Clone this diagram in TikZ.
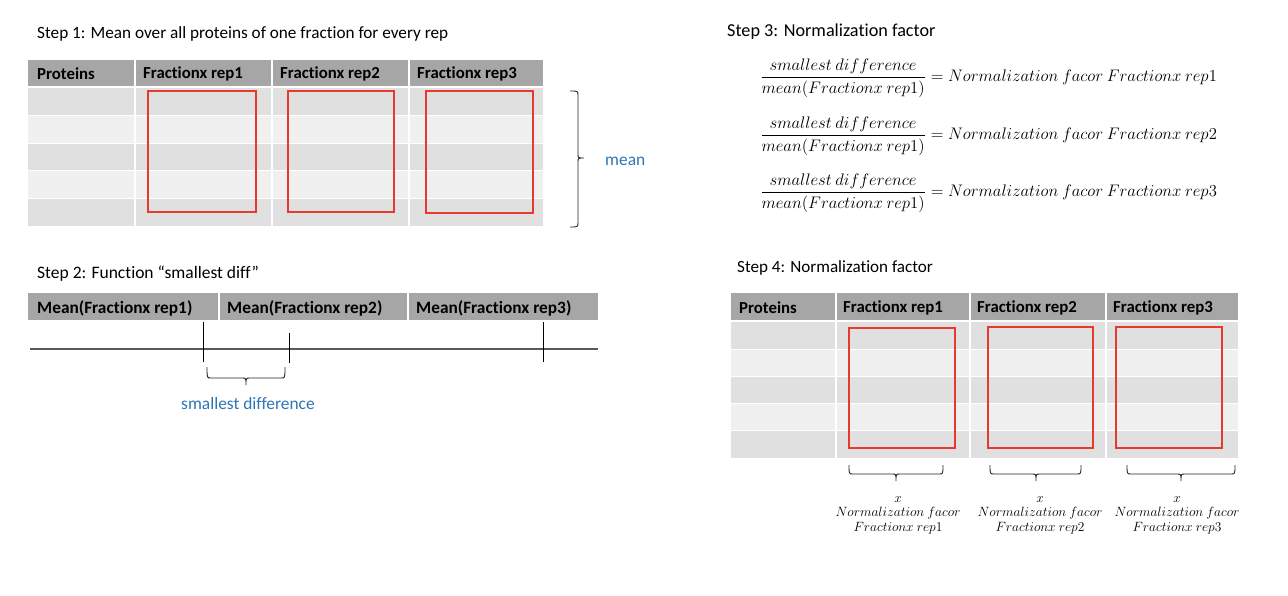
\documentclass[tikz,border=0pt]{standalone}
\usepackage{graphicx}
\usepackage{fontspec}
\setmainfont{Carlito}[Ligatures=NoCommon]
\definecolor{hdr}{HTML}{A6A6A6}
\definecolor{rowA}{HTML}{E0E0E0}
\definecolor{rowB}{HTML}{F0F0F0}
\definecolor{redbox}{HTML}{E8392F}
\definecolor{bluetxt}{HTML}{2E75B6}
\definecolor{axisgray}{HTML}{595959}
\tikzset{
  titletext/.style={anchor=west, inner sep=0pt, font=\fontsize{#1}{20}\selectfont},
  hdrtext/.style={anchor=west, inner sep=0pt, font=\fontsize{#1}{20}\selectfont\bfseries},
  redrect/.style={draw=redbox, line width=1.4pt},
  bluetext/.style={inner sep=0pt, text=bluetxt, font=\fontsize{17.4}{20}\selectfont},
  bracepath/.style={draw=black!85, line width=0.9pt},
  tickline/.style={draw=black, line width=0.7pt},
  cellsep/.style={draw=white, line width=1.5pt},
  rowsep/.style={draw=white, line width=1pt},
  eqtext/.style={anchor=west, inner sep=0pt, font=\fontsize{14}{17}\selectfont},
  factext/.style={inner sep=0pt, font=\fontsize{12.5}{14}\selectfont},
}
\newcommand{\eqline}[1]{\scalebox{1.16}{$\displaystyle\frac{smallest\ difference}{mean(Fractionx\ rep1)} = Normalization\ facor\ Fractionx\ rep#1$}}
\newcommand{\faclabel}[1]{\scalebox{1.12}{\renewcommand{\arraystretch}{0.95}\begin{tabular}{@{}c@{}}$x$\\$Normalization\ facor$\\$Fractionx\ rep#1$\end{tabular}}}
\begin{document}
\begin{tikzpicture}[x=1pt,y=-1pt]
\useasboundingbox[fill=white] (0,0) rectangle (1288,596);

% ---------------- Step 1 ----------------
\node[titletext=17.2] (t1) at (37,34) {Step 1: Mean over all proteins of one fraction for every rep};
\fill[hdr] (28,60) rectangle (543,86);
\foreach \r/\c in {0/rowA,1/rowB,2/rowA,3/rowB,4/rowA}
  \fill[\c] (28,{88+27.6*\r}) rectangle (543,{88+27.6*(\r+1)});
\foreach \r in {1,...,4} \draw[rowsep] (28,{88+27.6*\r}) -- (543,{88+27.6*\r});
\foreach \x in {135,272,409} \draw[cellsep] (\x,60) -- (\x,226);
\node[hdrtext=16.8] (h1a) at (37,74) {Proteins};
\node[hdrtext=16.8] (h1b) at (143,74) {Fractionx rep1};
\node[hdrtext=16.8] (h1c) at (280,74) {Fractionx rep2};
\node[hdrtext=16.8] (h1d) at (417,74) {Fractionx rep3};
\draw[redrect] (148,91) rectangle (256,212);
\draw[redrect] (288,91) rectangle (394,212);
\draw[redrect] (426,91) rectangle (533,213);
\draw[bracepath] (570,91) .. controls (578,91) .. (578,96) -- (578,154)
   .. controls (578,158) .. (584,158) .. controls (578,158) .. (578,162)
   -- (578,222) .. controls (578,227) .. (570,227);
\node[bluetext, anchor=west] (mean) at (605,161) {mean};

% ---------------- Step 2 ----------------
\node[titletext=17.5] (t2) at (37,274) {Step 2: Function “smallest diff”};
\fill[hdr] (28,293) rectangle (598,320);
\foreach \x in {219,408} \draw[cellsep] (\x,293) -- (\x,320);
\node[hdrtext=17.3] (m1) at (37,308) {Mean(Fractionx rep1)};
\node[hdrtext=17.3] (m2) at (227,308) {Mean(Fractionx rep2)};
\node[hdrtext=17.3] (m3) at (416,308) {Mean(Fractionx rep3)};
\draw[draw=axisgray, line width=1.6pt] (30,349) -- (598,349);
\draw[tickline] (203,322) -- (203,362);
\draw[tickline] (289,333) -- (289,363);
\draw[tickline] (543,322) -- (543,362);
\draw[bracepath] (207,367) .. controls (207,378) .. (211,378) -- (242,378)
   .. controls (246,378) .. (246,385) .. controls (246,378) .. (250,378)
   -- (281,378) .. controls (285,378) .. (285,367);
\node[bluetext] (sd) at (248,404) {smallest difference};

% ---------------- Step 3 ----------------
\node[titletext=18.2] (t3) at (727,32) {Step 3: Normalization factor};
\node[eqtext] (e1) at (760,78) {\eqline{1}};
\node[eqtext] (e2) at (760,136) {\eqline{2}};
\node[eqtext] (e3) at (760,193) {\eqline{3}};

% ---------------- Step 4 ----------------
\node[titletext=17.1] (t4) at (737,268) {Step 4: Normalization factor};
\fill[hdr] (731,293) rectangle (1238,320);
\foreach \r/\c in {0/rowA,1/rowB,2/rowA,3/rowB,4/rowA}
  \fill[\c] (731,{322+27.2*\r}) rectangle (1238,{322+27.2*(\r+1)});
\foreach \r in {1,...,4} \draw[rowsep] (731,{322+27.2*\r}) -- (1238,{322+27.2*\r});
\foreach \x in {836,970,1106} \draw[cellsep] (\x,293) -- (\x,458);
\node[hdrtext=16.8] (h4a) at (739,308) {Proteins};
\node[hdrtext=16.8] (h4b) at (843,308) {Fractionx rep1};
\node[hdrtext=16.8] (h4c) at (977,308) {Fractionx rep2};
\node[hdrtext=16.8] (h4d) at (1113,308) {Fractionx rep3};
\draw[redrect] (849,328) rectangle (955,448);
\draw[redrect] (988,327) rectangle (1093,448);
\draw[redrect] (1116,327) rectangle (1222,448);
\foreach \a/\m/\b in {849/896/943, 990/1036/1081, 1127/1181/1235}
  \draw[bracepath] (\a,465) .. controls (\a,474) .. (\a+4,474) -- (\m-4,474)
   .. controls (\m,474) .. (\m,481) .. controls (\m,474) .. (\m+4,474)
   -- (\b-4,474) .. controls (\b,474) .. (\b,465);
\node[factext] (f1) at (898,514) {\faclabel{1}};
\node[factext] (f2) at (1040,514) {\faclabel{2}};
\node[factext] (f3) at (1177,514) {\faclabel{3}};
\end{tikzpicture}
\end{document}
